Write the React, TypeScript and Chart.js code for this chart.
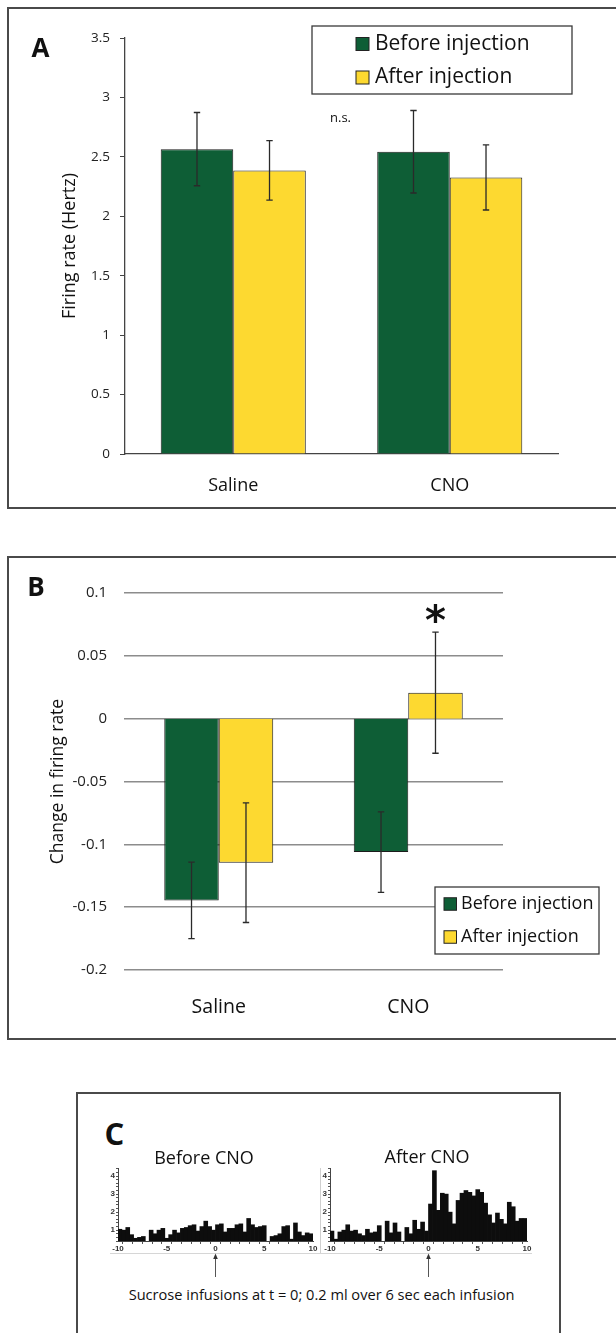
import React, { useEffect, useRef } from 'react';
import { Chart, registerables } from 'chart.js';

Chart.register(...registerables);

// ---------- data ----------
const groups = ['Saline', 'CNO'];
const seriesNames = ['Before injection', 'After injection'];

// Panel A: firing rate (Hz)
const rateBefore = [2.565, 2.543];
const rateAfter = [2.386, 2.327];
const rateBeforeErr = [0.308, 0.347];
const rateAfterErr = [0.25, 0.274];
const rateMin = 0;
const rateMax = 3.5;
const rateStep = 0.5;

// Panel B: change in firing rate
const changeBefore = [-0.1446, -0.1062];
const changeAfter = [-0.1146, 0.0207];
const changeBeforeErr = [0.0305, 0.032];
const changeAfterErr = [0.0476, 0.0482];
const changeMin = -0.2;
const changeMax = 0.1;
const changeStep = 0.05;

// Panel C: peri-event histograms, 50 bins of 0.4 s from -10 to 10 s
const psthStart = -10;
const psthBin = 0.4;
const psthBefore = [
  1.05, 1.0, 1.15, 0.75, 0.55, 0.6, 0.65, 0, 1.0, 0.8,
  1.0, 1.1, 0.55, 0.75, 1.0, 0.85, 1.1, 1.15, 1.25, 1.3,
  0.95, 1.2, 1.5, 1.2, 1.0, 1.3, 1.35, 0.9, 1.1, 1.1,
  1.3, 1.35, 0.9, 1.65, 1.3, 1.15, 1.2, 1.25, 0, 0.65,
  0.7, 0.8, 1.2, 1.25, 0.5, 1.4, 0.9, 0.7, 0.85, 0.8,
];
const psthAfter = [
  0.95, 0.5, 0.9, 1.0, 1.3, 0.95, 1.0, 0.8, 0.7, 1.05,
  0.85, 0.9, 1.25, 0, 1.5, 0.85, 1.4, 0.9, 0, 1.15,
  0.8, 1.55, 1.05, 1.45, 0.95, 2.45, 4.3, 2.1, 3.05, 3.0,
  2.0, 1.35, 2.65, 3.05, 3.2, 3.1, 2.9, 3.25, 3.1, 2.5,
  1.85, 1.4, 1.95, 1.6, 1.35, 2.55, 2.3, 1.5, 1.65, 1.65,
];
const psthMin = 0.4;
const psthMax = 4.45;

// ---------- styles ----------
const GREEN = '#0e5e36';
const YELLOW = '#fdd930';
const FONT = "'Open Sans', 'Noto Sans', sans-serif";
const SMALL = "'Liberation Sans Narrow', 'Liberation Sans', Arial, sans-serif";

const fmt = (v: number) => String(Math.round(v * 1000) / 1000);

const errorBars = (capHalf: number) => ({
  id: 'errorBars',
  afterDatasetsDraw(chart: any) {
    const { ctx } = chart;
    const ys = chart.scales.y;
    ctx.save();
    ctx.strokeStyle = '#2a2a2a';
    ctx.lineWidth = 1.3;
    chart.data.datasets.forEach((ds: any, i: number) => {
      const meta = chart.getDatasetMeta(i);
      meta.data.forEach((bar: any, j: number) => {
        const v = ds.data[j];
        const e = ds.errors[j];
        const x = bar.x;
        const y1 = ys.getPixelForValue(v + e);
        const y2 = ys.getPixelForValue(v - e);
        ctx.beginPath();
        ctx.moveTo(x, y1);
        ctx.lineTo(x, y2);
        ctx.moveTo(x - capHalf, y1);
        ctx.lineTo(x + capHalf, y1);
        ctx.moveTo(x - capHalf, y2);
        ctx.lineTo(x + capHalf, y2);
        ctx.stroke();
      });
    });
    ctx.restore();
  },
});

const boxLegend = (o: { x: number; y: number; w: number; h: number; sqX: number; sq: number; rows: number[]; textX: number; size: number }) => ({
  id: 'boxLegend',
  afterDraw(chart: any) {
    const { ctx } = chart;
    ctx.save();
    ctx.fillStyle = '#ffffff';
    ctx.fillRect(o.x, o.y, o.w, o.h);
    ctx.strokeStyle = '#3a3a3a';
    ctx.lineWidth = 1.3;
    ctx.strokeRect(o.x, o.y, o.w, o.h);
    chart.data.datasets.forEach((ds: any, i: number) => {
      const cy = o.rows[i];
      ctx.fillStyle = ds.backgroundColor;
      ctx.fillRect(o.sqX, cy - o.sq / 2, o.sq, o.sq);
      ctx.strokeStyle = '#222';
      ctx.lineWidth = 1;
      ctx.strokeRect(o.sqX, cy - o.sq / 2, o.sq, o.sq);
      ctx.fillStyle = '#111';
      ctx.font = `${o.size}px ${FONT}`;
      ctx.textAlign = 'left';
      ctx.textBaseline = 'middle';
      ctx.fillText(ds.label, o.textX, cy);
    });
    ctx.restore();
  },
});

const nsLabel = {
  id: 'nsLabel',
  afterDraw(chart: any) {
    const { ctx, chartArea } = chart;
    ctx.save();
    ctx.fillStyle = '#111';
    ctx.font = `13px ${FONT}`;
    ctx.textAlign = 'center';
    ctx.textBaseline = 'middle';
    ctx.fillText('n.s.', (chartArea.left + chartArea.right) / 2 - 1, 118);
    ctx.restore();
  },
};

const starLabel = {
  id: 'starLabel',
  afterDraw(chart: any) {
    const { ctx } = chart;
    const ds = chart.data.datasets[1];
    const bar = chart.getDatasetMeta(1).data[1];
    const yTop = chart.scales.y.getPixelForValue(ds.data[1] + ds.errors[1]);
    ctx.save();
    ctx.fillStyle = '#111';
    ctx.font = `bold 40px 'DejaVu Sans', sans-serif`;
    ctx.textAlign = 'center';
    ctx.textBaseline = 'alphabetic';
    const m = ctx.measureText('*');
    const cy = yTop - 19;
    const base = cy + (m.actualBoundingBoxAscent - m.actualBoundingBoxDescent) / 2;
    ctx.fillText('*', bar.x, base);
    ctx.restore();
  },
};

const zeroArrow = {
  id: 'zeroArrow',
  afterDraw(chart: any) {
    const { ctx, chartArea } = chart;
    const x = chart.scales.x.getPixelForValue(0);
    const b = chartArea.bottom;
    ctx.save();
    ctx.strokeStyle = '#555';
    ctx.fillStyle = '#333';
    ctx.lineWidth = 1;
    ctx.beginPath();
    ctx.moveTo(x, b + 17);
    ctx.lineTo(x, b + 36);
    ctx.stroke();
    ctx.beginPath();
    ctx.moveTo(x, b + 12.5);
    ctx.lineTo(x - 2.3, b + 18);
    ctx.lineTo(x + 2.3, b + 18);
    ctx.closePath();
    ctx.fill();
    ctx.restore();
  },
};

function barDatasets(before: number[], after: number[], beforeErr: number[], afterErr: number[], catPct: number) {
  return [
    { label: seriesNames[0], data: before, errors: beforeErr, backgroundColor: GREEN, borderColor: '#1c1c1c', borderWidth: 1, categoryPercentage: catPct, barPercentage: 1, inflateAmount: 0 },
    { label: seriesNames[1], data: after, errors: afterErr, backgroundColor: YELLOW, borderColor: '#1c1c1c', borderWidth: 1, categoryPercentage: catPct, barPercentage: 1, inflateAmount: 0 },
  ];
}

function psthConfig(values: number[], yWidth: number): any {
  const tickFont = { family: SMALL, size: 8, weight: 'bold' as const };
  return {
    type: 'bar',
    data: {
      datasets: [
        {
          data: values.map((v, i) => ({ x: psthStart + psthBin * (i + 0.5), y: v })),
          backgroundColor: '#0d0d0d',
          borderWidth: 0,
          categoryPercentage: 1,
          barPercentage: 1,
          inflateAmount: 0.35,
        },
      ],
    },
    options: {
      responsive: false,
      animation: false,
      layout: { padding: { left: 0, top: 8, right: 10, bottom: 0 } },
      plugins: { legend: { display: false }, tooltip: { enabled: false } },
      scales: {
        x: {
          type: 'linear',
          min: -10,
          max: 10,
          offset: false,
          ticks: {
            stepSize: 1,
            autoSkip: false,
            maxRotation: 0,
            padding: 0,
            color: '#333',
            font: tickFont,
            callback: (v: number) => (v % 5 === 0 ? String(v) : ''),
          },
          grid: { drawOnChartArea: false, tickLength: 3, color: '#555' },
          border: { color: '#444', width: 1 },
          afterFit: (s: any) => {
            s.height = 39;
          },
        },
        y: {
          min: psthMin,
          max: psthMax,
          ticks: {
            stepSize: 0.2,
            autoSkip: false,
            padding: 1,
            color: '#333',
            font: tickFont,
            callback: (v: number) => (Math.abs(v - Math.round(v)) < 1e-6 ? String(Math.round(v)) : ''),
          },
          grid: { drawOnChartArea: false, tickLength: 2, color: '#555' },
          border: { color: '#444', width: 1 },
          afterFit: (s: any) => {
            s.width = yWidth;
          },
        },
      },
    },
    plugins: [zeroArrow],
  };
}

const abs = (left: number, top: number, extra: React.CSSProperties = {}): React.CSSProperties => ({
  position: 'absolute',
  left,
  top,
  ...extra,
});

const centered = (cx: number, cy: number, size: number, extra: React.CSSProperties = {}): React.CSSProperties => ({
  position: 'absolute',
  left: cx,
  top: cy,
  transform: 'translate(-50%, -50%)',
  fontFamily: FONT,
  fontSize: size,
  lineHeight: 1.2,
  whiteSpace: 'nowrap',
  color: '#111',
  ...extra,
});

export default function App() {
  const refA = useRef<HTMLCanvasElement>(null);
  const refB = useRef<HTMLCanvasElement>(null);
  const refC1 = useRef<HTMLCanvasElement>(null);
  const refC2 = useRef<HTMLCanvasElement>(null);

  useEffect(() => {
    const charts: Chart[] = [];

    charts.push(
      new Chart(refA.current as HTMLCanvasElement, {
        type: 'bar',
        data: { labels: groups, datasets: barDatasets(rateBefore, rateAfter, rateBeforeErr, rateAfterErr, 0.67) as any },
        options: {
          responsive: false,
          animation: false,
          layout: { padding: { left: 50, top: 38, right: 58, bottom: 21 } },
          plugins: { legend: { display: false }, tooltip: { enabled: false } },
          scales: {
            x: {
              grid: { display: false },
              border: { display: true, color: '#444', width: 1.3 },
              ticks: { font: { family: FONT, size: 18 }, color: '#111', padding: 13 },
              afterFit: (s: any) => {
                s.height = 40;
              },
            },
            y: {
              min: rateMin,
              max: rateMax,
              ticks: { stepSize: rateStep, font: { family: FONT, size: 13.5 }, color: '#222', padding: 10, callback: (v: any) => fmt(v) },
              grid: { drawOnChartArea: false, drawTicks: true, tickLength: 5, color: '#444' },
              border: { display: true, color: '#444', width: 1.3 },
              title: { display: true, text: 'Firing rate (Hertz)', font: { family: FONT, size: 18 }, color: '#111', padding: { top: 9, bottom: 0 } },
              afterFit: (s: any) => {
                s.width = 75;
              },
            },
          },
        } as any,
        plugins: [
          errorBars(3.2),
          nsLabel,
          boxLegend({ x: 312, y: 26, w: 260, h: 68, sqX: 356, sq: 13, rows: [44, 77.5], textX: 375, size: 21 }),
        ],
      })
    );

    charts.push(
      new Chart(refB.current as HTMLCanvasElement, {
        type: 'bar',
        data: { labels: groups, datasets: barDatasets(changeBefore, changeAfter, changeBeforeErr, changeAfterErr, 0.575) as any },
        options: {
          responsive: false,
          animation: false,
          layout: { padding: { left: 40, top: 78, right: 113, bottom: 25 } },
          plugins: { legend: { display: false }, tooltip: { enabled: false } },
          scales: {
            x: {
              grid: { display: false },
              border: { display: false },
              ticks: { font: { family: FONT, size: 19.5 }, color: '#111', padding: 18 },
              afterFit: (s: any) => {
                s.height = 50;
              },
            },
            y: {
              min: changeMin,
              max: changeMax,
              ticks: { stepSize: changeStep, font: { family: FONT, size: 15 }, color: '#222', padding: 17, callback: (v: any) => fmt(v) },
              grid: { drawTicks: false, color: '#8c8c8c', lineWidth: 1.5 },
              border: { display: false },
              title: { display: true, text: 'Change in firing rate', font: { family: FONT, size: 17.5 }, color: '#111', padding: { top: 7.5, bottom: 0 } },
              afterFit: (s: any) => {
                s.width = 84;
              },
            },
          },
        } as any,
        plugins: [
          errorBars(3.2),
          starLabel,
          boxLegend({ x: 435, y: 372, w: 164, h: 67, sqX: 444, sq: 12.5, rows: [389, 422], textX: 461, size: 18 }),
        ],
      })
    );

    charts.push(new Chart(refC1.current as HTMLCanvasElement, psthConfig(psthBefore, 28)));
    charts.push(new Chart(refC2.current as HTMLCanvasElement, psthConfig(psthAfter, 27)));

    return () => charts.forEach((c) => c.destroy());
  }, []);

  const border = '2px solid #4a4a4a';

  return (
    <div style={{ position: 'absolute', left: 0, top: 0, width: 616, height: 1333, overflow: 'hidden', background: '#fff' }}>
      {/* panel frames */}
      <div style={abs(7, 7, { width: 700, height: 502, border, boxSizing: 'border-box' })} />
      <div style={abs(7, 556, { width: 700, height: 484, border, boxSizing: 'border-box' })} />
      <div style={abs(76, 1092, { width: 485, height: 400, border, boxSizing: 'border-box' })} />

      <canvas ref={refA} width={616} height={515} style={abs(0, 0, { width: 616, height: 515 })} />
      <canvas ref={refB} width={616} height={530} style={abs(0, 515, { width: 616, height: 530 })} />

      {/* panel C separators */}
      <div style={abs(110, 1253, { width: 422, height: 1, background: '#d6d6d6' })} />
      <div style={abs(320, 1168, { width: 1, height: 85, background: '#d0d0d0' })} />

      <canvas ref={refC1} width={233} height={120} style={abs(90, 1160, { width: 233, height: 120 })} />
      <canvas ref={refC2} width={234} height={120} style={abs(303, 1160, { width: 234, height: 120 })} />

      {/* text */}
      <div style={centered(40.5, 47.5, 26, { fontWeight: 700 })}>A</div>
      <div style={centered(36, 586.5, 26, { fontWeight: 700 })}>B</div>
      <div style={centered(114.5, 1133.5, 31, { fontWeight: 700 })}>C</div>
      <div style={centered(204, 1158, 18)}>Before CNO</div>
      <div style={centered(427, 1157, 18)}>After CNO</div>
      <div style={centered(321.5, 1295, 14.6)}>Sucrose infusions at t = 0; 0.2 ml over 6 sec each infusion</div>
    </div>
  );
}
